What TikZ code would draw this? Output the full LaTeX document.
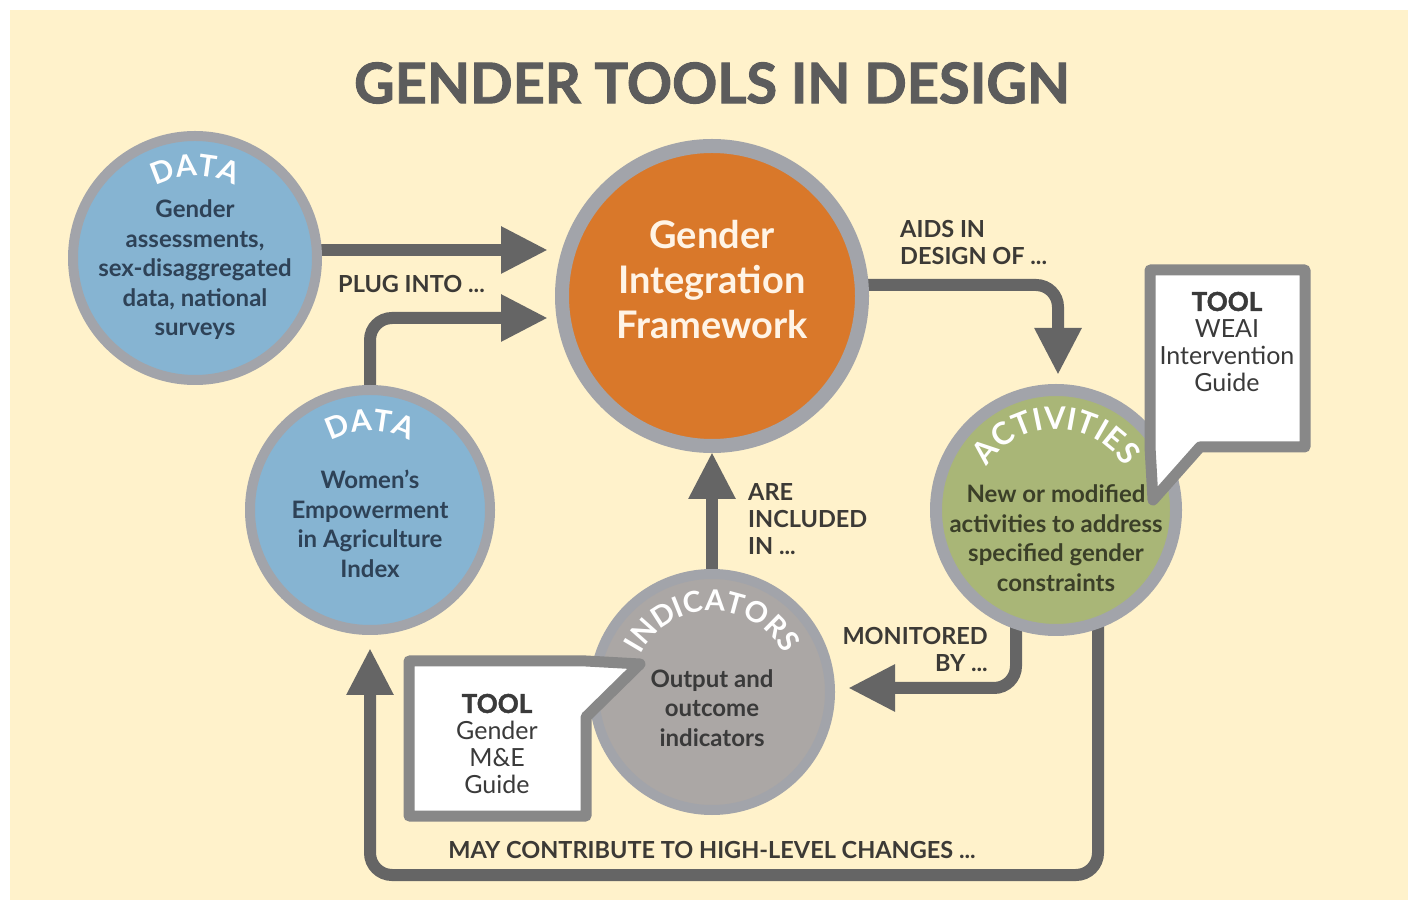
\documentclass[tikz,border=0pt]{standalone}
\usepackage{fontspec}
\setmainfont{Lato}
\newfontfamily\heavy{Lato}[BoldFeatures={FakeBold=1.6}]
\usetikzlibrary{arrows.meta,decorations.text,calc}
\definecolor{cream}{HTML}{FFF2CB}
\definecolor{ringgray}{HTML}{A2A4AA}
\definecolor{bluefill}{HTML}{86B4D2}
\definecolor{orangefill}{HTML}{D9782A}
\definecolor{greenfill}{HTML}{A9B677}
\definecolor{indfill}{HTML}{ABA7A5}
\definecolor{arrowgray}{HTML}{656565}
\definecolor{boxgray}{HTML}{888888}
\definecolor{titlegray}{HTML}{5C5C5C}
\definecolor{labelgray}{HTML}{3C3A36}
\definecolor{navytext}{HTML}{2E4257}
\definecolor{olivetext}{HTML}{3B3F28}
\definecolor{indtext}{HTML}{3A3A3A}
\definecolor{gifwhite}{HTML}{FFF4E6}
\pgfdeclarelayer{back}
\pgfsetlayers{back,main}
\newcommand{\arcfontA}{\fontsize{30}{30}\selectfont\bfseries\color{white}}
\newcommand{\arcfontB}{\fontsize{31}{31}\selectfont\bfseries\color{white}}
\newcommand{\arcfontC}{\fontsize{29}{29}\selectfont\bfseries\color{white}}
\begin{document}
\begin{tikzpicture}[x=1pt,y=1pt,
  bub/.style={circle, draw=ringgray, inner sep=0pt},
  arr/.style={draw=arrowgray, line width=12pt, rounded corners=22pt, -{Triangle[length=47pt,width=44pt]}},
  lab/.style={font=\fontsize{23.5}{27}\selectfont\bfseries, text=labelgray, inner sep=0pt},
  body/.style={align=center, font=\fontsize{24}{29.5}\selectfont\bfseries, inner sep=0pt},
  toolbox/.style={draw=boxgray, fill=white, line width=11pt, line join=round},
  tooltext/.style={align=center, font=\fontsize{25}{27}\selectfont, text=indtext, inner sep=0pt}
]
\useasboundingbox (0,0) rectangle (1408,900);
\begin{pgfonlayer}{back}
\fill[white] (0,0) rectangle (1408,900);
\fill[cream] (10,0) rectangle (1408,890);
\end{pgfonlayer}

% title
\node[font=\fontsize{56}{60}\selectfont\heavy\bfseries, text=titlegray] (title) at (712,817) {GENDER TOOLS IN DESIGN};

% circles
\node[bub, fill=bluefill, line width=10pt, minimum size=244pt] (d1) at (195,642) {};
\node[bub, fill=orangefill, line width=14pt, minimum size=300pt] (gif) at (712,604) {};
\node[bub, fill=greenfill, line width=12pt, minimum size=240pt] (act) at (1056,390) {};
\node[bub, fill=bluefill, line width=10pt, minimum size=240pt] (d2) at (370,390) {};
\node[bub, fill=indfill, line width=10pt, minimum size=236pt] (ind) at (712,208) {};

% arc titles
\path[decorate, decoration={text along path, text align=center, text={|\arcfontA|DATA}}]
  ($(d1.center)+(130:82)$) arc[start angle=130, end angle=50, radius=82];
\path[decorate, decoration={text along path, text align=center, text={|\arcfontA|DATA}}]
  ($(d2.center)+(130:79)$) arc[start angle=130, end angle=50, radius=79];
\path[decorate, decoration={text along path, text align=center, text={|\arcfontB|ACTIVITIES}}]
  ($(act.center)+(165:81)$) arc[start angle=165, end angle=15, radius=81];
\path[decorate, decoration={text along path, text align=center, text={|\arcfontC|INDICATORS}}]
  ($(ind.center)+(165:81)$) arc[start angle=165, end angle=15, radius=81];

% body texts
\node[body, text=navytext] (d1t) at (195,630) {Gender\\assessments,\\sex-disaggregated\\data, national\\surveys};
\node[align=center, font=\fontsize{38}{45}\selectfont\bfseries, text=gifwhite, inner sep=0pt] (gift) at (712,620) {Gender\\Integration\\Framework};
\node[body, text=olivetext] (actt) at (1056,362) {New or modified\\activities to address\\specified gender\\constraints};
\node[body, text=navytext] (d2t) at (370,376) {Women's\\Empowerment\\in Agriculture\\Index};
\node[body, text=indtext] (indt) at (712,192) {Output and\\outcome\\indicators};

% arrow tips
\coordinate (t1) at (548,650);
\coordinate (t2) at (548,582);
\coordinate (t3) at (1058,525);
\coordinate (t4) at (712,448);
\coordinate (t5) at (848,212);
\coordinate (t6) at (370,252);
\coordinate (c3) at (1058,615);
\coordinate (c5) at (1016,212);
\coordinate (c6) at (1098,25);

\begin{pgfonlayer}{back}
\draw[arr] (d1.center |- t1) -- (t1);
\draw[arr] (d2.center) |- (t2);
\draw[arr] (gif.center |- c3) -- (c3) -- (t3);
\draw[arr] (ind.center) -- (t4);
\draw[arr] (act.center -| c5) -- (c5) -- (t5);
\draw[arr] (act.center -| c6) -- (c6) -| (t6);
\end{pgfonlayer}

% labels
\node[lab, anchor=west] (l1) at (338,616) {PLUG INTO ...};
\node[lab, anchor=west, align=left] (l2) at (900,657) {AIDS IN\\DESIGN OF ...};
\node[lab, anchor=west, align=left] (l3) at (748,381) {ARE\\INCLUDED\\IN ...};
\node[lab, anchor=east, align=right] (l4) at (988,251) {MONITORED\\BY ...};
\node[lab] (l5) at (712,50) {MAY CONTRIBUTE TO HIGH-LEVEL CHANGES ...};

% tool boxes
\draw[toolbox] (1150,630) -- (1305,630) -- (1305,453) -- (1200,453) -- (1153,400) -- (1150,453) -- cycle;
\node[tooltext] (tw) at (1227,558) {{\heavy\bfseries\fontsize{26}{27}\selectfont TOOL}\\WEAI\\Intervention\\Guide};
\draw[toolbox] (409,239) -- (586,239) -- (640,236) -- (586,183) -- (586,84) -- (409,84) -- cycle;
\node[tooltext] (tm) at (497,156) {{\heavy\bfseries\fontsize{26}{27}\selectfont TOOL}\\Gender\\M\&E\\Guide};
\end{tikzpicture}
\end{document}
